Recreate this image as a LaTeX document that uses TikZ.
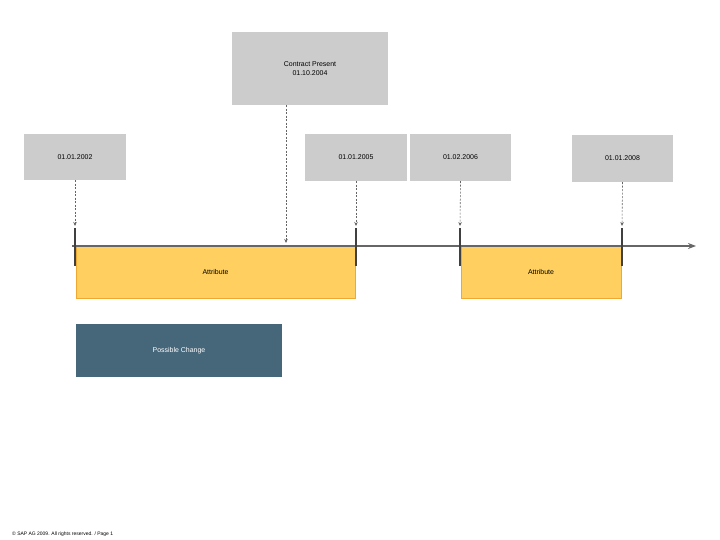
\documentclass[tikz,border=0pt]{standalone}
\usepackage{fontspec}
\setmainfont{Liberation Sans}
\usetikzlibrary{arrows.meta}
\definecolor{boxgray}{HTML}{CCCCCC}
\definecolor{attr}{HTML}{FFD060}
\definecolor{attrb}{HTML}{F0A830}
\definecolor{chg}{HTML}{46667A}
\definecolor{linec}{HTML}{666666}
\begin{document}
\begin{tikzpicture}[x=1bp,y=-1bp,
  datebox/.style={fill=boxgray,draw=none,inner sep=0,align=center,font=\fontsize{7}{8.5}\selectfont},
  attrbox/.style={fill=attr,draw=attrb,line width=0.6bp,inner sep=0,font=\fontsize{7}{8}\selectfont},
  tickline/.style={draw=black!75,line width=1.3bp},
  dashconn/.style={draw=linec,dash pattern=on 2bp off 1.5bp,line width=0.6bp,-{Stealth[length=4bp,width=3.5bp]}}]
\useasboundingbox (0,0) rectangle (720,540);
\node[datebox,minimum width=156bp,minimum height=73bp] (cp) at (310,68.5) {Contract Present\\01.10.2004};
\node[datebox,minimum width=102bp,minimum height=46bp] (d1) at (75,157) {01.01.2002};
\node[datebox,minimum width=102bp,minimum height=47bp] (d2) at (356,157.5) {01.01.2005};
\node[datebox,minimum width=101bp,minimum height=47bp] (d3) at (460.5,157.5) {01.02.2006};
\node[datebox,minimum width=101bp,minimum height=47bp] (d4) at (622.5,158.5) {01.01.2008};
\node[attrbox,minimum width=279bp,minimum height=52bp] (a1) at (215.5,272) {Attribute};
\node[attrbox,minimum width=160bp,minimum height=52bp] (a2) at (541,272) {Attribute};
\node[fill=chg,inner sep=0,minimum width=206bp,minimum height=53bp,text=white,font=\fontsize{7}{8}\selectfont] (pc) at (179,350.5) {Possible Change};
\coordinate (ts) at (72,246);
\coordinate (te) at (696,246);
\draw[linec,line width=1.3bp,-{Stealth[length=8bp,width=6bp]}] (ts) -- (te);
\foreach \x/\n in {75/t1,356/t2,460/t3,622/t4}{
  \coordinate (\n a) at (\x,228); \coordinate (\n b) at (\x,266);
  \draw[tickline] (\n a) -- (\n b);}
\coordinate (e1) at (75,226);
\coordinate (e2) at (356,226);
\coordinate (e3) at (460,226);
\coordinate (e4) at (622,226);
\coordinate (ec) at (286,243);
\draw[dashconn] (d1.south) -- (e1);
\draw[dashconn] (d2.south) -- (e2);
\draw[dashconn] (d3.south) -- (e3);
\draw[dashconn] (d4.south) -- (e4);
\draw[dashconn] (cp.south -| ec) -- (ec);
\node[anchor=west,inner sep=0,font=\fontsize{5}{6}\selectfont] (ft) at (12,534) {© SAP AG 2009. All rights reserved. / Page 1};
\end{tikzpicture}
\end{document}
